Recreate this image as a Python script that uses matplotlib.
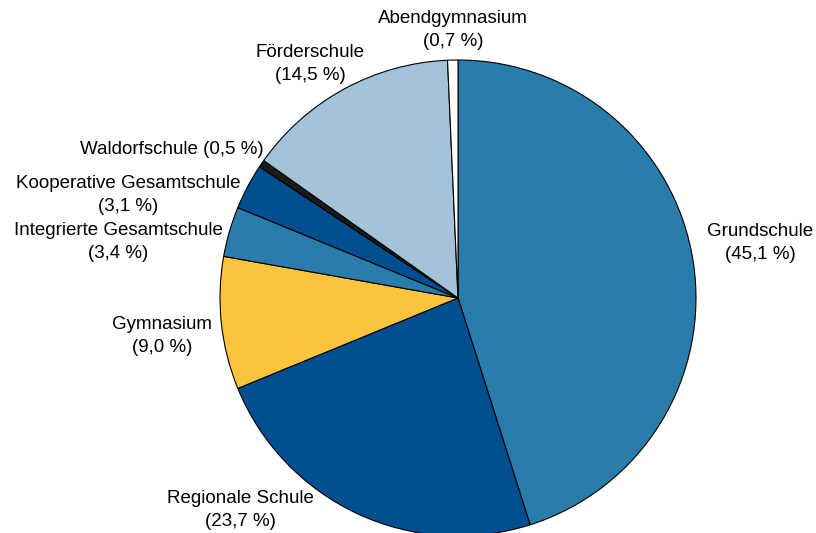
import matplotlib.pyplot as plt

plt.rcParams['font.family'] = ['Liberation Sans', 'DejaVu Sans']

schools = ['Grundschule', 'Regionale Schule', 'Gymnasium',
           'Integrierte Gesamtschule', 'Kooperative Gesamtschule',
           'Waldorfschule', 'Förderschule', 'Abendgymnasium']
shares = [45.1, 23.7, 9.0, 3.4, 3.1, 0.5, 14.5, 0.7]
colors = ['#2a7daa', '#014e91', '#fbc33e', '#2a7daa', '#014e91',
          '#1b1b1b', '#a4c3d8', '#ffffff']

# label text: name + share, some on one line
single_line = ['Waldorfschule']
labels = []
for name, v in zip(schools, shares):
    pct = ('%.1f' % v).replace('.', ',') + ' %'
    sep = ' ' if name in single_line else '\n'
    labels.append(name + sep + '(' + pct + ')')

# label anchor points (pixels in the 816x533 image), tuned by eye
label_px = {
    'Grundschule': (760, 243),
    'Regionale Schule': (240, 510),
    'Gymnasium': (162, 336),
    'Integrierte Gesamtschule': (118, 242),
    'Kooperative Gesamtschule': (128, 195),
    'Waldorfschule': (172, 149),
    'Förderschule': (310, 64),
    'Abendgymnasium': (453, 30),
}

cx, cy, r = 458, 298, 238

fig = plt.figure(figsize=(8.16, 5.33), dpi=100)
ax = fig.add_axes([0, 0, 1, 1])
wedges, texts = ax.pie(shares, colors=colors, startangle=90, counterclock=False,
                       labels=labels, radius=1,
                       wedgeprops=dict(edgecolor='black', linewidth=0.8),
                       textprops=dict(fontsize=13.5, ha='center', va='center',
                                      linespacing=1.4))

for t, name in zip(texts, schools):
    px, py = label_px[name]
    t.set_position(((px - cx) / r, (cy - py) / r))
    t.set_ha('center')
    t.set_va('center')

ax.set_xlim(-cx / r, (816 - cx) / r)
ax.set_ylim(-(533 - cy) / r, cy / r)
ax.set_aspect('auto')
ax.axis('off')

fig.savefig('out.png', dpi=100)
